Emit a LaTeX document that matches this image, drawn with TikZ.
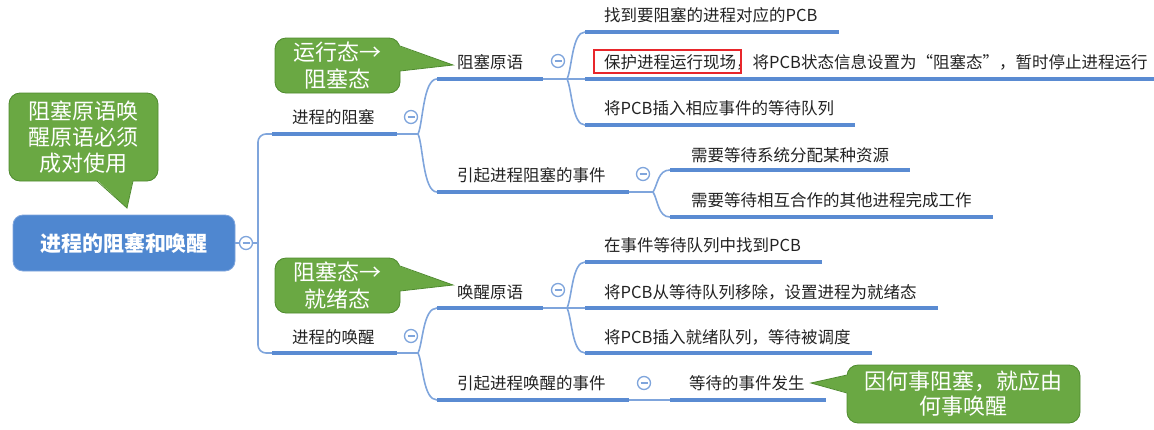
\documentclass[tikz,border=0pt]{standalone}
\usepackage{fontspec}
\setmainfont{Noto Sans CJK SC}
\usetikzlibrary{calc}
\definecolor{lineblue}{HTML}{5A8BD2}
\definecolor{thinblue}{HTML}{7FA5DC}
\definecolor{rootblue}{HTML}{4F87D0}
\definecolor{cgreen}{HTML}{6AA843}
\definecolor{cborder}{HTML}{4E8A2E}
\definecolor{txt}{HTML}{222222}
\definecolor{hired}{HTML}{E8262B}
\begin{document}
\begin{tikzpicture}[x=1pt,y=-1pt,
  topic/.style={anchor=west,inner sep=0pt,text=txt,font=\fontsize{16.5}{20}\selectfont},
  uline/.style={draw=lineblue,line width=4pt},
  link/.style={draw=thinblue,line width=1.6pt},
  fold/.style={circle,draw=thinblue,line width=1.3pt,fill=white,minimum size=13pt,inner sep=0pt,
    path picture={\draw[thinblue,line width=1.3pt] ($(path picture bounding box.center)+(-3.5,0)$) -- ($(path picture bounding box.center)+(3.5,0)$);}},
  note/.style={draw=cborder,fill=cgreen,rounded corners=11pt,line width=0.8pt,text=white,align=center,inner sep=0pt,font=\fontsize{22}{26}\selectfont},
  tip/.style={fill=cgreen},
  tipedge/.style={draw=cborder,line width=0.8pt},
]
\useasboundingbox (0,0) rectangle (1154,429);

% ---------- root ----------
\node[fill=rootblue,draw=thinblue,line width=0.8pt,rounded corners=10pt,minimum width=222pt,minimum height=56pt,
      text=white,font=\fontsize{21}{24}\selectfont\bfseries] (root) at (124,243) {进程的阻塞和唤醒};
\node[fold] (f0) at (246,243) {};
\coordinate (trunk) at (258,243);
\draw[link] (root.east) -- (f0.west);
\draw[link] (f0.east) -- (trunk);

% ---------- level 1 ----------
\node[topic] (p1) at (292,117) {进程的阻塞};
\coordinate (p1L) at (272,134);
\coordinate (p1R) at (397,134);
\coordinate (s1) at (418,134);
\node[fold] (f1) at (411,117) {};
\node[topic] (p2) at (292,337) {进程的唤醒};
\coordinate (p2L) at (272,353);
\coordinate (p2R) at (397,353);
\coordinate (s2) at (418,353);
\node[fold] (f2) at (411,336) {};
\draw[link,rounded corners=8pt] (p1L) -| (trunk) |- (p2L);
\draw[uline] (p1L) -- (p1R);
\draw[uline] (p2L) -- (p2R);
\draw[link] (p1R) -- (s1);
\draw[link] (p2R) -- (s2);

% ---------- level 2 (block) ----------
\node[topic] (a1) at (457,62) {阻塞原语};
\coordinate (a1L) at (437,79);
\coordinate (a1R) at (543,79);
\coordinate (s3) at (567,79);
\node[fold] (f3) at (558,61) {};
\node[topic] (a2) at (457,175) {引起进程阻塞的事件};
\coordinate (a2L) at (437,192);
\coordinate (a2R) at (629,192);
\coordinate (s4) at (653,192);
\node[fold] (f4) at (643,174) {};
\draw[link] (s1) .. controls +(5,-10) and +(-14,0) .. (a1L);
\draw[link] (s1) .. controls +(5,10) and +(-14,0) .. (a2L);
\draw[uline] (a1L) -- (a1R);
\draw[uline] (a2L) -- (a2R);
\draw[link] (a1R) -- (s3);
\draw[link] (a2R) -- (s4);

% ---------- level 3 (block primitive) ----------
\node[topic] (k1) at (604,15) {找到要阻塞的进程对应的PCB};
\coordinate (k1L) at (585,32);
\node[topic] (k2) at (604,62) {保护进程运行现场，将PCB状态信息设置为“阻塞态”，暂时停止进程运行};
\coordinate (k2L) at (585,79);
\coordinate (k2R) at (1154,79);
\node[topic] (k3) at (604,108) {将PCB插入相应事件的等待队列};
\coordinate (k3L) at (585,125);
\draw[hired,line width=1.1pt] ($(k2.west)+(-10,-12)$) rectangle ($(k2.west)+(137,11)$);
\draw[link] (s3) .. controls +(5,-10) and +(-13,0) .. (k1L);
\draw[link] (s3) -- (k2L);
\draw[link] (s3) .. controls +(5,10) and +(-13,0) .. (k3L);
\draw[uline] (k1L) -- ($(k1L -| k1.east)+(21,0)$);
\draw[uline] (k2L) -- (k2R);
\draw[uline] (k3L) -- ($(k3L -| k3.east)+(21,0)$);

% ---------- level 3 (block events) ----------
\node[topic] (e1) at (691,155) {需要等待系统分配某种资源};
\coordinate (e1L) at (670,170);
\node[topic] (e2) at (691,200) {需要等待相互合作的其他进程完成工作};
\coordinate (e2L) at (670,217);
\draw[link] (s4) .. controls +(5,-8) and +(-12,0) .. (e1L);
\draw[link] (s4) .. controls +(5,8) and +(-12,0) .. (e2L);
\draw[uline] (e1L) -- ($(e1L -| e1.east)+(21,0)$);
\draw[uline] (e2L) -- ($(e2L -| e2.east)+(21,0)$);

% ---------- level 2 (wake) ----------
\node[topic] (b1) at (457,292) {唤醒原语};
\coordinate (b1L) at (437,308);
\coordinate (b1R) at (543,308);
\coordinate (s5) at (567,308);
\node[fold] (f5) at (558,290) {};
\node[topic] (b2) at (457,383) {引起进程唤醒的事件};
\coordinate (b2L) at (437,400);
\coordinate (b2R) at (629,400);
\node[fold] (f6) at (644,383) {};
\draw[link] (s2) .. controls +(5,-10) and +(-14,0) .. (b1L);
\draw[link] (s2) .. controls +(5,10) and +(-14,0) .. (b2L);
\draw[uline] (b1L) -- (b1R);
\draw[uline] (b2L) -- (b2R);
\draw[link] (b1R) -- (s5);

% ---------- level 3 (wake primitive) ----------
\node[topic] (r1) at (604,245) {在事件等待队列中找到PCB};
\coordinate (r1L) at (585,262);
\node[topic] (r2) at (604,292) {将PCB从等待队列移除，设置进程为就绪态};
\coordinate (r2L) at (585,308);
\node[topic] (r3) at (604,337) {将PCB插入就绪队列，等待被调度};
\coordinate (r3L) at (585,353);
\draw[link] (s5) .. controls +(5,-10) and +(-13,0) .. (r1L);
\draw[link] (s5) -- (r2L);
\draw[link] (s5) .. controls +(5,10) and +(-13,0) .. (r3L);
\draw[uline] (r1L) -- ($(r1L -| r1.east)+(21,0)$);
\draw[uline] (r2L) -- ($(r2L -| r2.east)+(21,0)$);
\draw[uline] (r3L) -- ($(r3L -| r3.east)+(21,0)$);

% ---------- level 3 (wake events) ----------
\node[topic] (w1) at (689,383) {等待的事件发生};
\coordinate (w1L) at (670,400);
\draw[link] (b2R) -- (w1L);
\draw[uline] (w1L) -- ($(w1L -| w1.east)+(21,0)$);

% ---------- callouts ----------
\node[note,minimum width=149pt,minimum height=88pt] (n1) at (83.5,137) {阻塞原语唤\\醒原语必须\\成对使用};
\coordinate (n1a) at (97,181);
\coordinate (n1b) at (133,181);
\coordinate (n1t) at (127,208);
\fill[tip] ($(n1a)+(0,-1.2)$) -- (n1t) -- ($(n1b)+(0,-1.2)$) -- cycle;
\draw[tipedge] (n1a) -- (n1t) -- (n1b);

\node[note,minimum width=125pt,minimum height=55pt,font=\fontsize{22}{27}\selectfont] (n2) at (337.5,65.5) {运行态→\\阻塞态};
\coordinate (n2a) at (400,46);
\coordinate (n2b) at (400,71);
\coordinate (n2t) at (453,65);
\fill[tip] ($(n2a)+(-1.2,0)$) -- (n2t) -- ($(n2b)+(-1.2,0)$) -- cycle;
\draw[tipedge] (n2a) -- (n2t) -- (n2b);

\node[note,minimum width=125pt,minimum height=55pt,font=\fontsize{22}{27}\selectfont] (n3) at (337.5,285.5) {阻塞态→\\就绪态};
\coordinate (n3a) at (400,266);
\coordinate (n3b) at (400,291);
\coordinate (n3t) at (453,285);
\fill[tip] ($(n3a)+(-1.2,0)$) -- (n3t) -- ($(n3b)+(-1.2,0)$) -- cycle;
\draw[tipedge] (n3a) -- (n3t) -- (n3b);

\node[note,minimum width=233pt,minimum height=58pt,font=\fontsize{22}{25}\selectfont] (n4) at (963.5,394) {因何事阻塞，就应由\\何事唤醒};
\coordinate (n4a) at (847,375);
\coordinate (n4b) at (847,393);
\coordinate (n4t) at (811,383);
\fill[tip] ($(n4a)+(1.2,0)$) -- (n4t) -- ($(n4b)+(1.2,0)$) -- cycle;
\draw[tipedge] (n4a) -- (n4t) -- (n4b);
\end{tikzpicture}
\end{document}
